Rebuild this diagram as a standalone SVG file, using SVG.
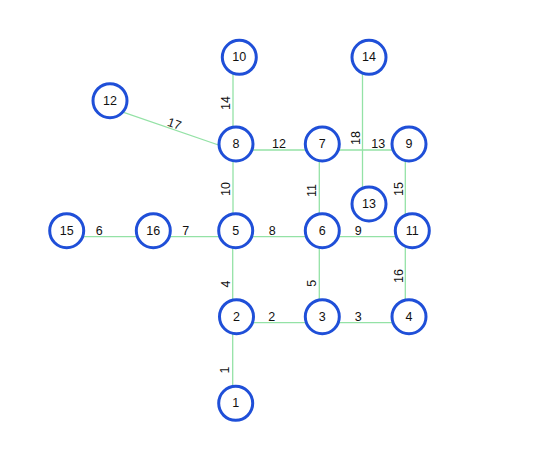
<svg xmlns="http://www.w3.org/2000/svg" width="543" height="459" viewBox="0 0 543 459">
<style>
.e{stroke:#94e2a6;stroke-width:1.3;fill:none}
.n circle{fill:#fff;stroke:#1f4fd8;stroke-width:3}
text{font-family:"Liberation Sans",Arial,sans-serif;font-size:12.5px;fill:#111;text-anchor:middle;dominant-baseline:central}
</style>
<rect width="543" height="459" fill="#fff"/>
<g id="connectors">
<line class="e" x1="233" y1="63" x2="233" y2="150"/>
<line class="e" x1="107" y1="106.7" x2="233" y2="150"/>
<line class="e" x1="233" y1="150" x2="319.3" y2="150"/>
<line class="e" x1="319.3" y1="150" x2="405.3" y2="150"/>
<line class="e" x1="362.5" y1="63" x2="362.5" y2="210"/>
<line class="e" x1="319.3" y1="150" x2="319.3" y2="236.7"/>
<line class="e" x1="405.3" y1="150" x2="405.3" y2="236.7"/>
<line class="e" x1="233" y1="150" x2="233" y2="236.7"/>
<line class="e" x1="63.7" y1="236.7" x2="150" y2="236.7"/>
<line class="e" x1="150" y1="236.7" x2="233" y2="236.7"/>
<line class="e" x1="233" y1="236.7" x2="319.3" y2="236.7"/>
<line class="e" x1="319.3" y1="236.7" x2="405.3" y2="236.7"/>
<line class="e" x1="232.7" y1="236.7" x2="232.7" y2="322.7"/>
<line class="e" x1="319.3" y1="236.7" x2="319.3" y2="322.7"/>
<line class="e" x1="405.3" y1="236.7" x2="405.3" y2="322.7"/>
<line class="e" x1="232.7" y1="322.7" x2="319.3" y2="322.7"/>
<line class="e" x1="319.3" y1="322.7" x2="405.3" y2="322.7"/>
<line class="e" x1="232.7" y1="322.7" x2="232.7" y2="409"/>
<text transform="translate(225.7,103) rotate(-90)">14</text>
<text transform="translate(174.3,124) rotate(19)">17</text>
<text x="279" y="144">12</text>
<text transform="translate(356,138) rotate(-90)">18</text>
<text x="378.3" y="144">13</text>
<text transform="translate(225.7,189) rotate(-90)">10</text>
<text transform="translate(311.7,190.5) rotate(-90)">11</text>
<text transform="translate(399,189) rotate(-90)">15</text>
<text x="99.3" y="230.7">6</text>
<text x="185.7" y="230.7">7</text>
<text x="272.3" y="230.7">8</text>
<text x="358.3" y="230.7">9</text>
<text transform="translate(225.7,284) rotate(-90)">4</text>
<text transform="translate(311.7,283.3) rotate(-90)">5</text>
<text transform="translate(399,276) rotate(-90)">16</text>
<text x="271.7" y="316.7">2</text>
<text x="358.3" y="316.7">3</text>
<text transform="translate(225.3,370) rotate(-90)">1</text>
</g>
<g id="node10" class="n"><circle cx="239.3" cy="57.3" r="17"/><text x="239.3" y="57.3">10</text></g>
<g id="node14" class="n"><circle cx="369" cy="57.3" r="17"/><text x="369" y="57.3">14</text></g>
<g id="node12" class="n"><circle cx="110" cy="100.7" r="17"/><text x="110" y="100.7">12</text></g>
<g id="node8" class="n"><circle cx="236" cy="144" r="17"/><text x="236" y="144">8</text></g>
<g id="node7" class="n"><circle cx="322.3" cy="144" r="17"/><text x="322.3" y="144">7</text></g>
<g id="node9" class="n"><circle cx="409" cy="144" r="17"/><text x="409" y="144">9</text></g>
<g id="node13" class="n"><circle cx="369" cy="204" r="17"/><text x="369" y="204">13</text></g>
<g id="node15" class="n"><circle cx="66.7" cy="230.7" r="17"/><text x="66.7" y="230.7">15</text></g>
<g id="node16" class="n"><circle cx="153.3" cy="230.7" r="17"/><text x="153.3" y="230.7">16</text></g>
<g id="node5" class="n"><circle cx="235.7" cy="230.7" r="17"/><text x="235.7" y="230.7">5</text></g>
<g id="node6" class="n"><circle cx="322.3" cy="230.7" r="17"/><text x="322.3" y="230.7">6</text></g>
<g id="node11" class="n"><circle cx="412.3" cy="230.7" r="17"/><text x="412.3" y="230.7">11</text></g>
<g id="node2" class="n"><circle cx="236.5" cy="316.7" r="17"/><text x="236.5" y="316.7">2</text></g>
<g id="node3" class="n"><circle cx="322.3" cy="316.7" r="17"/><text x="322.3" y="316.7">3</text></g>
<g id="node4" class="n"><circle cx="409" cy="316.7" r="17"/><text x="409" y="316.7">4</text></g>
<g id="node1" class="n"><circle cx="235.7" cy="403.3" r="17"/><text x="235.7" y="403.3">1</text></g>
</svg>
